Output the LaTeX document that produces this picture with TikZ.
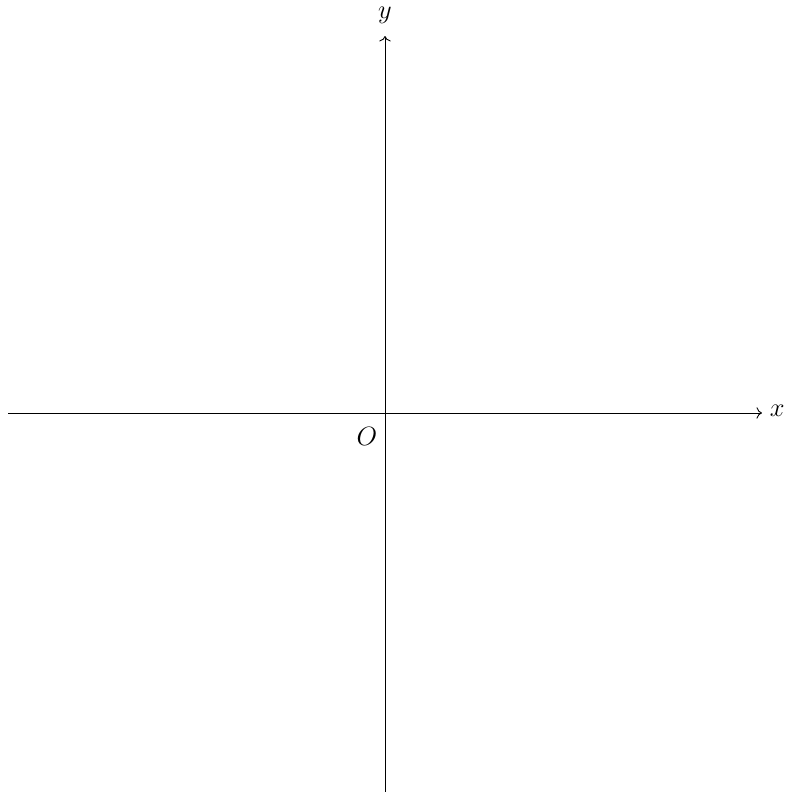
\documentclass[tikz,border=0pt]{standalone}
\usepackage{amsmath,amssymb}
\usepackage{tikz}
\usetikzlibrary{arrows.meta,positioning}
\definecolor{ink}{HTML}{000000}
\tikzset{
  axisline/.style={->,draw=ink,line width=0.4pt},
  axislabel/.style={font=\large,inner sep=3.33pt}
}

\begin{document}
\begin{tikzpicture}[x=1cm,y=1cm]
  \useasboundingbox (-6.128,-6.032) rectangle (6.494,6.573);
  % axes
  \coordinate (xstart) at (-6,0);
  \coordinate (xend) at (6,0);
  \coordinate (ystart) at (0,-6.04);
  \coordinate (yend) at (0,6);
  \coordinate (origin) at (0,0);
  \draw[axisline] (xstart) -- (xend);
  \draw[axisline] (ystart) -- (yend);
  \node[axislabel,right=0pt of xend,yshift=1pt] (xlab) {$x$};
  \node[axislabel,above=0.08cm of yend] (ylab) {$y$};
  \node[axislabel,below left=0.1cm and 0pt of origin] (olab) {$O$};
\end{tikzpicture}
\end{document}
